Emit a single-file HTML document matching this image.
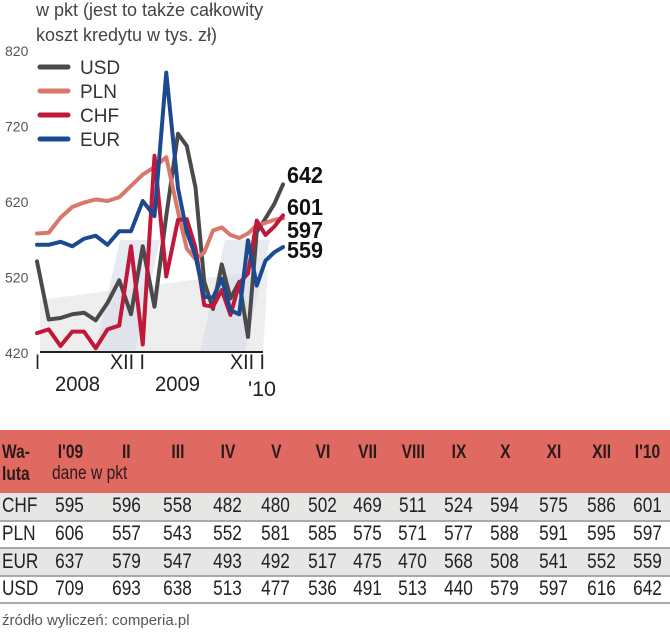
<!DOCTYPE html>
<html><head><meta charset="utf-8">
<style>
body{margin:0;width:670px;height:640px;background:#fff;overflow:hidden;font-family:"Liberation Sans",sans-serif;position:relative}
.t{position:absolute;white-space:nowrap}
table{position:absolute;left:0;top:430px;width:670px;border-collapse:collapse;table-layout:fixed}
td{padding:0;text-align:center;font-size:21px;color:#222;white-space:nowrap}
td span{display:inline-block;transform:scaleX(0.82)}
td:first-child{text-align:left;padding-left:2px}
td:first-child span{transform-origin:left center}
tr.hd{background:#e06a62;height:63px}
tr.hd td{font-weight:bold;font-size:19px;vertical-align:top;padding-top:12px;color:#2a1a1a}
tr.r{height:27.5px;border-bottom:2px solid #aaa}
tr.g{background:#e6e6e4}
</style></head><body>
<div class="t" style="left:36px;top:-2px;font-size:18px;color:#444;line-height:25px">w pkt (jest to także całkowity<br>koszt kredytu w tys. zł)</div>
<svg id="chart" width="670" height="410" style="position:absolute;left:0;top:0"></svg>
<table>
<colgroup><col style="width:40px"><col style="width:60px"><col style="width:53px"><col style="width:50px"><col style="width:49px"><col style="width:48px"><col style="width:45px"><col style="width:45px"><col style="width:46px"><col style="width:45px"><col style="width:48px"><col style="width:49px"><col style="width:47px"><col style="width:45px"></colgroup>
<tr class="hd"><td style="line-height:22px"><span>Wa-<br>luta</span></td><td><span>I'09</span></td><td><span>II</span></td><td><span>III</span></td><td><span>IV</span></td><td><span>V</span></td><td><span>VI</span></td><td><span>VII</span></td><td><span>VIII</span></td><td><span>IX</span></td><td><span>X</span></td><td><span>XI</span></td><td><span>XII</span></td><td><span>I'10</span></td></tr>
<tr class="r g"><td><span>CHF</span></td><td><span>595</span></td><td><span>596</span></td><td><span>558</span></td><td><span>482</span></td><td><span>480</span></td><td><span>502</span></td><td><span>469</span></td><td><span>511</span></td><td><span>524</span></td><td><span>594</span></td><td><span>575</span></td><td><span>586</span></td><td><span>601</span></td></tr>
<tr class="r"><td><span>PLN</span></td><td><span>606</span></td><td><span>557</span></td><td><span>543</span></td><td><span>552</span></td><td><span>581</span></td><td><span>585</span></td><td><span>575</span></td><td><span>571</span></td><td><span>577</span></td><td><span>588</span></td><td><span>591</span></td><td><span>595</span></td><td><span>597</span></td></tr>
<tr class="r g"><td><span>EUR</span></td><td><span>637</span></td><td><span>579</span></td><td><span>547</span></td><td><span>493</span></td><td><span>492</span></td><td><span>517</span></td><td><span>475</span></td><td><span>470</span></td><td><span>568</span></td><td><span>508</span></td><td><span>541</span></td><td><span>552</span></td><td><span>559</span></td></tr>
<tr class="r"><td><span>USD</span></td><td><span>709</span></td><td><span>693</span></td><td><span>638</span></td><td><span>513</span></td><td><span>477</span></td><td><span>536</span></td><td><span>491</span></td><td><span>513</span></td><td><span>440</span></td><td><span>579</span></td><td><span>597</span></td><td><span>616</span></td><td><span>642</span></td></tr>
</table>
<div class="t" style="left:52px;top:463px;font-size:19px;color:#2a1a1a;transform:scaleX(0.82);transform-origin:left top">dane w pkt</div>
<div class="t" style="left:2px;top:612px;font-size:15px;color:#555">źródło wyliczeń: comperia.pl</div>
<script>
const yTicks=[420,520,620,720,820];
const usd=[540,463,465,470,472,462,485,515,470,560,480,600,709,693,638,513,477,536,491,513,440,579,597,616,642];
const pln=[577,578,598,612,618,622,620,625,640,655,665,678,606,557,543,552,581,585,575,571,577,588,591,595,597];
const chf=[445,450,428,447,447,425,450,455,560,430,680,520,595,596,558,482,480,502,469,511,524,594,575,586,601];
const eur=[562,562,566,560,570,574,562,580,580,620,600,790,637,579,547,493,492,517,475,470,568,508,541,552,559];
const svg=document.getElementById('chart');
const NS='http://www.w3.org/2000/svg';
function y(v){return 352-(v-420)*0.755;}
function x(i){return i<=12?37+i*11.75:178+(i-12)*8.75;}
function mk(t,a){const e=document.createElementNS(NS,t);for(const k in a)e.setAttribute(k,a[k]);svg.appendChild(e);return e;}
const bg=mk('polygon',{points:'40,352 263,352 268,270 40,300',fill:'#eeeeee'});


[[95,135],[200,245]].forEach(b=>{const p=mk('polygon',{points:`${b[0]},352 ${b[1]},352 ${b[1]+25},240 ${b[0]+25},240`,fill:'#d8dce8',opacity:0.6});

});
yTicks.forEach(v=>{const t=mk('text',{x:5,y:y(v)+6,'font-size':14,fill:'#555','font-family':'Liberation Sans,sans-serif'});t.textContent=v;

});
const ax=mk('line',{x1:40,x2:263,y1:352,y2:352,stroke:'#222','stroke-width':2});


const series=[['usd',usd,'#4a4a4a'],['pln',pln,'#d9776a'],['chf',chf,'#c0183a'],['eur',eur,'#1c4a90']];
series.forEach(s=>{const p=mk('polyline',{points:s[1].map((v,i)=>x(i)+','+y(v)).join(' '),fill:'none',stroke:s[2],'stroke-width':4,'stroke-linejoin':'round','stroke-linecap':'round'});

});
const names=['USD','PLN','CHF','EUR'];
series.forEach((s,i)=>{const ly=67+i*24;
const l=mk('line',{x1:40,x2:68,y1:ly,y2:ly,stroke:s[2],'stroke-width':5,'stroke-linecap':'round'});


const t=mk('text',{x:80,y:ly+7,'font-size':19,fill:'#333','font-family':'Liberation Sans,sans-serif'});t.textContent=names[i];

});
const endV=[[642,183],[601,215],[597,238],[559,258]];
endV.forEach(e=>{const t=mk('text',{x:287,y:e[1],'font-size':23,'font-weight':'bold',fill:'#111','font-family':'Liberation Sans,sans-serif',textLength:36,lengthAdjust:'spacingAndGlyphs'});t.textContent=e[0];

});
[['I',35,369,5],['XII I',110,369,35],['XII I',230,369,35]].forEach(a=>{const t=mk('text',{x:a[1],y:a[2],'font-size':21,fill:'#222','font-family':'Liberation Sans,sans-serif',textLength:a[3],lengthAdjust:'spacingAndGlyphs'});t.textContent=a[0];

});
[['2008',55,391,45],['2009',155,391,45],["'10",248,396,28]].forEach(a=>{const t=mk('text',{x:a[1],y:a[2],'font-size':21,fill:'#222','font-family':'Liberation Sans,sans-serif',textLength:a[3],lengthAdjust:'spacingAndGlyphs'});t.textContent=a[0];

});
</script>
</body></html>
